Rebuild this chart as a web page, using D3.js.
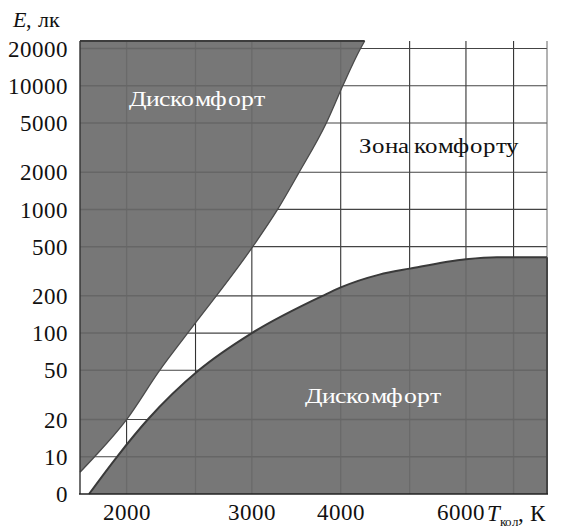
<!DOCTYPE html>
<html>
<head>
<meta charset="utf-8">
<script src="https://cdn.jsdelivr.net/npm/d3@7"></script>
<style>
  @font-face {
    font-family: "ChartSerif";
    font-style: normal;
    src: local("Liberation Serif"), local("LiberationSerif"), local("LiberationSerif-Regular"),
         local("DejaVu Serif"), local("DejaVuSerif"), local("Tinos"), local("Tinos-Regular"),
         local("Times New Roman"), local("Noto Serif"), local("NotoSerif-Regular"), local("FreeSerif");
  }
  @font-face {
    font-family: "ChartSerif";
    font-style: italic;
    src: local("Liberation Serif Italic"), local("LiberationSerif-Italic"),
         local("DejaVu Serif Italic"), local("DejaVuSerif-Italic"), local("Tinos Italic"),
         local("Times New Roman Italic"), local("Noto Serif Italic"), local("FreeSerifItalic");
  }
  html, body { margin: 0; padding: 0; background: #fff; }
  svg { display: block; }
</style>
</head>
<body>
<svg id="chart" width="563" height="528"></svg>
<script>
// ---- data ----
const xGrid = [2000, 2500, 3000, 4000, 5000, 6000, 7000];
const xTicks = [2000, 3000, 4000, 6000];
const yTicks = [0, 10, 20, 50, 100, 200, 500, 1000, 2000, 5000, 10000, 20000];
const xDomain = [1720, 7800];
const yDomain = [5, 23000];          // "0" sits at the floor of the log axis
const eTop = 23000;

// upper discomfort boundary
const upperT = [1720, 1803, 2000, 2226, 2437, 3009, 3261, 3491, 3818, 4027, 4265, 4323];
const upperE = [7.5, 10, 20, 50, 100, 500, 1000, 1965, 5000, 10000, 20000, 23000];
// lower discomfort boundary
const lowerT = [1771, 1939, 2142, 2526, 3000, 3771, 4000, 4532, 5000, 6000, 6631, 7800];
const lowerE = [0, 10, 20, 50, 100, 200, 234, 297, 332, 396, 411, 411];

const labelUpper = "Дискомфорт";
const labelLower = "Дискомфорт";
const labelComfort = "Зона комфорту";

const serif = "ChartSerif, 'Liberation Serif', 'DejaVu Serif', serif";

// ---- layout ----
const pLeft = 80, pRight = 547, pBottom = 494, pTop = 41;
const digitW = 12;

const svg = d3.select("#chart");

const x = d3.scaleLog().domain(xDomain).range([pLeft, pRight]);
const y = d3.scaleLog().domain(yDomain).range([pBottom, pTop]).clamp(true);

const upper = upperT.map((t, i) => ({ t, e: upperE[i] }));
const lower = lowerT.map((t, i) => ({ t, e: lowerE[i] }));

const darkFill = "#777777";

// grid (light region colour)
const grid = svg.append("g");
grid.selectAll("line.v").data(xGrid).join("line")
  .attr("x1", d => x(d)).attr("x2", d => x(d))
  .attr("y1", y(eTop)).attr("y2", pBottom)
  .attr("stroke", "#333").attr("stroke-width", 1.1);
grid.selectAll("line.h").data(yTicks.filter(v => v > 0)).join("line")
  .attr("x1", pLeft).attr("x2", pRight)
  .attr("y1", d => y(d)).attr("y2", d => y(d))
  .attr("stroke", "#444").attr("stroke-width", 1.1);
grid.append("line")
  .attr("x1", pRight).attr("x2", pRight).attr("y1", y(eTop)).attr("y2", pBottom)
  .attr("stroke", "#666").attr("stroke-width", 1);

// dark regions
const areaUpper = d3.area()
  .x(d => x(d.t)).y0(y(eTop)).y1(d => y(d.e))
  .curve(d3.curveMonotoneX);
const areaLower = d3.area()
  .x(d => x(d.t)).y0(pBottom).y1(d => y(d.e))
  .curve(d3.curveMonotoneX);

svg.append("path").datum(upper).attr("d", areaUpper).attr("fill", darkFill);
svg.append("path").datum(lower).attr("d", areaLower).attr("fill", darkFill);

// grid seen through the dark regions
const defs = svg.append("defs");
const cp = defs.append("clipPath").attr("id", "darkClip");
cp.append("path").datum(upper).attr("d", areaUpper);
cp.append("path").datum(lower).attr("d", areaLower);
const grid2 = svg.append("g").attr("clip-path", "url(#darkClip)");
grid2.selectAll("line.v").data(xGrid).join("line")
  .attr("x1", d => x(d)).attr("x2", d => x(d))
  .attr("y1", y(eTop)).attr("y2", pBottom)
  .attr("stroke", "#6a6a6a").attr("stroke-width", 1.3);
grid2.selectAll("line.h").data(yTicks.filter(v => v > 0)).join("line")
  .attr("x1", pLeft).attr("x2", pRight)
  .attr("y1", d => y(d)).attr("y2", d => y(d))
  .attr("stroke", "#666").attr("stroke-width", 1.5);

// boundary curves
const line = d3.line().x(d => x(d.t)).y(d => y(d.e)).curve(d3.curveMonotoneX);
svg.append("path").datum(upper).attr("d", line)
  .attr("fill", "none").attr("stroke", "#4a4a4a").attr("stroke-width", 1.3);
svg.append("path").datum(lower).attr("d", line)
  .attr("fill", "none").attr("stroke", "#3a3a3a").attr("stroke-width", 2);

// top edge of upper region
svg.append("line")
  .attr("x1", pLeft).attr("x2", x(upperT[upperT.length - 1]))
  .attr("y1", y(eTop)).attr("y2", y(eTop))
  .attr("stroke", "#3c3c3c").attr("stroke-width", 2.2);
// right edge of lower region
svg.append("line")
  .attr("x1", pRight).attr("x2", pRight)
  .attr("y1", y(lowerE[lowerE.length - 1])).attr("y2", pBottom)
  .attr("stroke", "#444").attr("stroke-width", 2);
// left and bottom axis lines
svg.append("line")
  .attr("x1", pLeft).attr("x2", pLeft).attr("y1", y(eTop)).attr("y2", pBottom)
  .attr("stroke", "#333").attr("stroke-width", 1.4);
svg.append("line")
  .attr("x1", pLeft - 1).attr("x2", pRight + 1).attr("y1", pBottom).attr("y2", pBottom)
  .attr("stroke", "#222").attr("stroke-width", 1.6);

// y axis labels
const yAxis = d3.axisLeft(y).tickValues(yTicks).tickSize(0).tickPadding(0)
  .tickFormat(d => String(d));
const gy = svg.append("g").attr("transform", `translate(${pLeft - 12},0)`).call(yAxis)
  .attr("font-family", serif);
gy.select(".domain").remove();
gy.selectAll("text")
  .attr("font-size", 23).attr("fill", "#111").attr("dy", "0.33em")
  .attr("textLength", d => String(d).length * digitW)
  .attr("lengthAdjust", "spacingAndGlyphs");

// x axis labels
const xAxis = d3.axisBottom(x).tickValues(xTicks).tickSize(0).tickPadding(0)
  .tickFormat(d3.format("d"));
const gx = svg.append("g").attr("transform", `translate(0,${pBottom + 10})`).call(xAxis)
  .attr("font-family", serif);
gx.select(".domain").remove();
gx.selectAll("text")
  .attr("font-size", 23).attr("fill", "#111").attr("dy", "0.71em")
  .attr("textLength", d => String(d).length * digitW)
  .attr("lengthAdjust", "spacingAndGlyphs");
gx.selectAll(".tick").filter(d => d === 6000).select("text").attr("dx", -5);

// axis titles
const yt = svg.append("text").attr("x", 13).attr("y", 27).attr("font-size", 22)
  .attr("font-family", serif).attr("fill", "#111");
yt.append("tspan").attr("font-style", "italic").text("E");
yt.append("tspan").text(", лк");

const xt = svg.append("text").attr("x", 487).attr("y", 521).attr("font-size", 23)
  .attr("font-family", serif).attr("fill", "#111");
xt.append("tspan").attr("font-style", "italic").text("T");
xt.append("tspan").attr("font-size", 13).attr("dy", 5).text("кол");
xt.append("tspan").attr("dy", -5).text(", К");

// region labels
svg.append("text").attr("x", 197).attr("y", 106).attr("text-anchor", "middle")
  .attr("font-family", serif).attr("font-size", 21).attr("fill", "#fff")
  .attr("textLength", 137).attr("lengthAdjust", "spacingAndGlyphs").text(labelUpper);
svg.append("text").attr("x", 373).attr("y", 403).attr("text-anchor", "middle")
  .attr("font-family", serif).attr("font-size", 21).attr("fill", "#fff")
  .attr("textLength", 137).attr("lengthAdjust", "spacingAndGlyphs").text(labelLower);
svg.append("text").attr("x", 439).attr("y", 153).attr("text-anchor", "middle")
  .attr("font-family", serif).attr("font-size", 21).attr("fill", "#111")
  .attr("textLength", 161).attr("lengthAdjust", "spacingAndGlyphs").text(labelComfort);
</script>
</body>
</html>
